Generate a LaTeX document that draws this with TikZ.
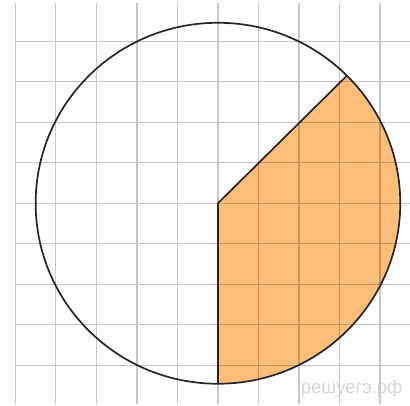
\documentclass[tikz,border=0pt]{standalone}
\usepackage{fontspec}
\newfontfamily\wmfont{Liberation Sans}
\definecolor{sector}{RGB}{253,190,122}
\definecolor{wmgray}{RGB}{214,214,214}

\begin{document}
\begin{tikzpicture}[x=1cm,y=0.99cm]
\tikzstyle{gridline}=[draw=black,opacity=0.22,line width=0.8pt]
\tikzstyle{outline}=[draw=black!85,line width=1.2pt,line join=round]
\useasboundingbox (-5.38cm,-5.0cm) rectangle (4.74cm,5.017cm);
% points of the sector
\coordinate (O) at (0,0);
\coordinate (B) at (-90:4.5);
\coordinate (A) at (45:4.5);
% shaded sector, then the squared paper over it
\fill[sector] (O) -- (B) arc[start angle=-90,end angle=45,radius=4.5] -- cycle;
\draw[gridline] (-5,-5) grid (4.74,5);
% circle and the two radii
\draw[outline] (O) circle[radius=4.5];
\draw[outline] (B) -- (O) -- (A);
\node[wmgray,font=\wmfont\fontsize{13}{13}\selectfont,anchor=base] (wm) at (3.30,-4.74) {решуегэ.рф};
\end{tikzpicture}
\end{document}
